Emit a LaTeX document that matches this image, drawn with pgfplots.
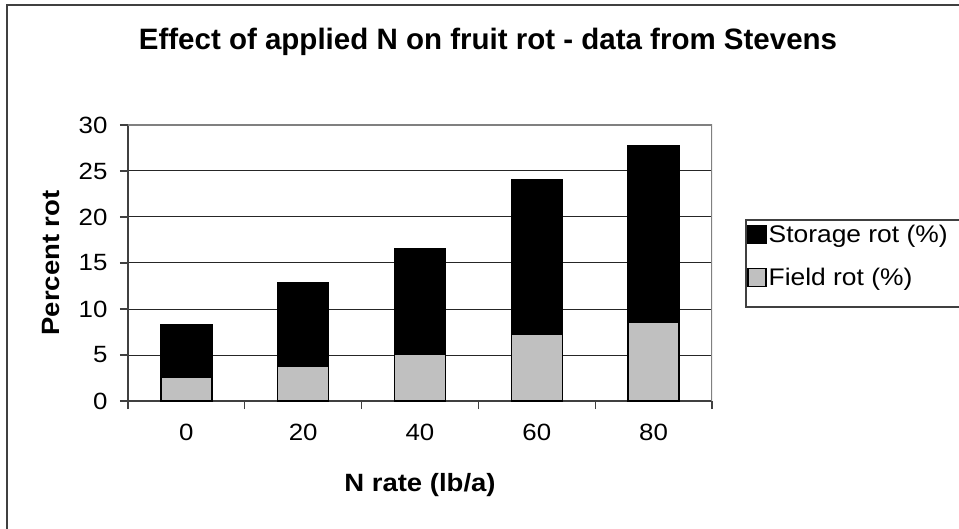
\documentclass[border=0pt]{standalone}
\usepackage{pgfplots}
\pgfplotsset{compat=1.18}
\usepackage{fontspec}
\setmainfont{Liberation Sans}
\newfontfamily\wide[FakeStretch=1.1]{Liberation Sans}
\definecolor{fieldgray}{HTML}{C0C0C0}
\definecolor{axdark}{HTML}{404040}
\definecolor{boxgray}{HTML}{808080}
\begin{document}
\begin{tikzpicture}[x=1pt,y=1pt]
\useasboundingbox (0,0) rectangle (959,-529);
\fill[white] (0,0) rectangle (959,-529);
\draw[line width=2.5pt, color=axdark] (7,-540) -- (7,-5) -- (970,-5);
\node[font=\bfseries\fontsize{29.5}{34}\selectfont] at (488,-42) {Effect of applied N on fruit rot - data from Stevens};
\draw[line width=1.3pt, color=black!75] (746,-220) rectangle (975,-307);
\begin{axis}[
  at={(128pt,-401pt)}, anchor=south west,
  scale only axis, width=584pt, height=276pt,
  ybar stacked, bar width=51pt,
  xmin=-0.5, xmax=4.5, ymin=0, ymax=30,
  axis lines=left, axis line style={-, line width=1.8pt, color=axdark},
  ytick={0,5,...,30},
  xtick={-0.5,0.5,...,4.5}, xticklabels={},
  extra x ticks={0,1,2,3,4}, extra x tick labels={0,20,40,60,80},
  extra x tick style={major tick length=0pt, grid=none},
  tick align=outside, major tick length=8pt,
  tick style={line width=1.2pt, color=axdark},
  ymajorgrids, grid style={line width=1pt, color=black!85},
  /pgf/number format/assume math mode=true,
  tick label style={font=\wide\fontsize{23.5}{27}\selectfont},
  xticklabel style={yshift=-20pt},
  yticklabel style={xshift=-9pt},
  ylabel={Percent rot},
  ylabel style={at={(axis description cs:-0.1318,0.5)}, anchor=center, font=\wide\bfseries\fontsize{25}{29}\selectfont},
  xlabel={N rate (lb/a)},
  xlabel style={at={(axis description cs:0.5,-0.3043)}, anchor=center, font=\wide\bfseries\fontsize{25}{29}\selectfont},
  legend style={draw=none, fill=none, at={(axis description cs:1.0604,0.6558)}, anchor=north west,
    font=\wide\fontsize{24}{28}\selectfont, row sep=20pt, inner xsep=0pt, inner ysep=3pt,
    nodes={inner xsep=2pt}},
  legend cell align=left,
  reverse legend,
  legend image code/.code={\draw[#1, line width=1.2pt] (0pt,-9pt) rectangle (18pt,9pt);},
]
\addplot[fill=fieldgray, draw=black, line width=1.5pt] coordinates {(0,2.53) (1,3.8) (2,5.07) (3,7.28) (4,8.59)};
\addlegendentry{Field rot (\%)}
\addplot[fill=black, draw=black, line width=1.5pt] coordinates {(0,5.81) (1,9.1) (2,11.53) (3,16.72) (4,19.11)};
\addlegendentry{Storage rot (\%)}
\draw[line width=1.5pt, color=boxgray] (rel axis cs:0,1) -- (rel axis cs:1,1) -- (rel axis cs:1,0);
\end{axis}
\end{tikzpicture}
\end{document}
